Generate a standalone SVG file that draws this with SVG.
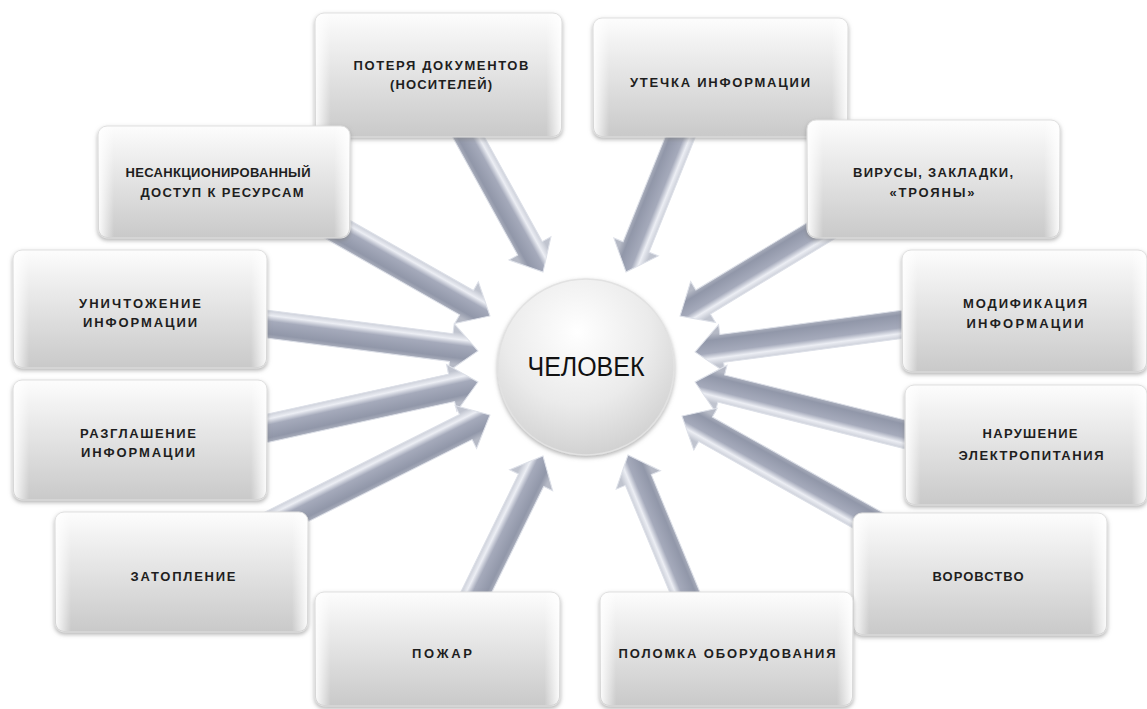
<svg xmlns="http://www.w3.org/2000/svg" width="1147" height="709" viewBox="0 0 1147 709">
<defs>
  <linearGradient id="boxGrad" x1="0" y1="0" x2="0" y2="1">
    <stop offset="0" stop-color="#fdfdfd"/>
    <stop offset="0.2" stop-color="#f2f2f2"/>
    <stop offset="1" stop-color="#c9c9c9"/>
  </linearGradient>
  <linearGradient id="bevelGrad" x1="0" y1="0" x2="1" y2="0">
    <stop offset="0" stop-color="#ffffff" stop-opacity="0.9"/>
    <stop offset="0.06" stop-color="#ffffff" stop-opacity="0"/>
    <stop offset="0.94" stop-color="#ffffff" stop-opacity="0"/>
    <stop offset="1" stop-color="#ffffff" stop-opacity="0.9"/>
  </linearGradient>
  <linearGradient id="arrowGrad" gradientUnits="userSpaceOnUse" x1="0" y1="-16" x2="0" y2="16">
    <stop offset="0" stop-color="#c0c4cf"/>
    <stop offset="0.22" stop-color="#eceef4"/>
    <stop offset="0.4" stop-color="#a5aabb"/>
    <stop offset="0.8" stop-color="#9197a9"/>
    <stop offset="1" stop-color="#b5b9c5"/>
  </linearGradient>
  <radialGradient id="circleGrad" cx="0.45" cy="0.3" r="0.75">
    <stop offset="0" stop-color="#ffffff"/>
    <stop offset="0.55" stop-color="#ebebeb"/>
    <stop offset="1" stop-color="#cdcdcd"/>
  </radialGradient>
  <filter id="shadow" x="-10%" y="-10%" width="120%" height="130%">
    <feDropShadow dx="0" dy="2" stdDeviation="2" flood-color="#808080" flood-opacity="0.6"/>
  </filter>
</defs>
<style>
  .box { fill: url(#boxGrad); stroke: #e0e0e0; stroke-width: 1; filter: url(#shadow); }
  .bevel { fill: url(#bevelGrad); stroke: none; }
  .lbl { font-family: "Liberation Sans", Arial, sans-serif; font-size: 13px; font-weight: bold; fill: #1e1e1e; text-anchor: middle; }
  .arrow { fill: url(#arrowGrad); stroke: #dde0e8; stroke-width: 1; stroke-linejoin: miter; }
  .center { fill: url(#circleGrad); stroke: #e2e2e2; stroke-width: 1.5; filter: url(#shadow); }
  .ctext { font-family: "Liberation Sans", Arial, sans-serif; font-size: 27px; fill: #111; text-anchor: middle; }
</style>

<g id="connectors">
  <path class="arrow" transform="translate(543,272) rotate(61.1)" d="M-168,-14 H-27 V-24 L0,0 L-27,24 V14 H-168 Z"/>
  <path class="arrow" transform="translate(626,272) rotate(111.9)" d="M-158,-14 H-27 V-24 L0,0 L-27,24 V14 H-158 Z"/>
  <path class="arrow" transform="translate(490,316) rotate(29.6)" d="M-184,-14 H-27 V-24 L0,0 L-27,24 V14 H-184 Z"/>
  <path class="arrow" transform="translate(680,316) rotate(148.8)" d="M-175,-14 H-27 V-24 L0,0 L-27,24 V14 H-175 Z"/>
  <path class="arrow" transform="translate(478,351) rotate(7.25)" d="M-230,-14 H-27 V-24 L0,0 L-27,24 V14 H-230 Z"/>
  <path class="arrow" transform="translate(695,352) rotate(172.4)" d="M-227,-14 H-27 V-24 L0,0 L-27,24 V14 H-227 Z"/>
  <path class="arrow" transform="translate(478,382) rotate(-12.4)" d="M-233,-14 H-27 V-24 L0,0 L-27,24 V14 H-233 Z"/>
  <path class="arrow" transform="translate(695,382) rotate(-166)" d="M-232,-14 H-27 V-24 L0,0 L-27,24 V14 H-232 Z"/>
  <path class="arrow" transform="translate(490,415) rotate(-26.6)" d="M-246,-14 H-27 V-24 L0,0 L-27,24 V14 H-246 Z"/>
  <path class="arrow" transform="translate(682,416) rotate(-150.7)" d="M-233,-14 H-27 V-24 L0,0 L-27,24 V14 H-233 Z"/>
  <path class="arrow" transform="translate(543,456) rotate(-63.9)" d="M-166,-14 H-27 V-24 L0,0 L-27,24 V14 H-166 Z"/>
  <path class="arrow" transform="translate(628,455) rotate(-112.5)" d="M-162,-14 H-27 V-24 L0,0 L-27,24 V14 H-162 Z"/>
</g>

<g id="node-center">
  <circle class="center" cx="586" cy="367" r="88"/>
  <text class="ctext" x="586" y="376" textLength="117" lengthAdjust="spacingAndGlyphs">ЧЕЛОВЕК</text>
</g>

<g id="node-poterya">
  <rect class="box" x="315" y="13" width="247" height="124" rx="9"/>
  <rect class="bevel" x="316" y="14" width="245" height="122" rx="8"/>
  <text class="lbl" x="441" y="70" textLength="175" lengthAdjust="spacing">ПОТЕРЯ ДОКУМЕНТОВ</text>
  <text class="lbl" x="441" y="89" textLength="102" lengthAdjust="spacing">(НОСИТЕЛЕЙ)</text>
</g>

<g id="node-utechka">
  <rect class="box" x="593" y="18" width="255" height="119" rx="9"/>
  <rect class="bevel" x="594" y="19" width="253" height="117" rx="8"/>
  <text class="lbl" x="720" y="87" textLength="180" lengthAdjust="spacing">УТЕЧКА ИНФОРМАЦИИ</text>
</g>

<g id="node-nesank">
  <rect class="box" x="98" y="126" width="252" height="112" rx="9"/>
  <rect class="bevel" x="99" y="127" width="250" height="110" rx="8"/>
  <text class="lbl" x="218" y="177" textLength="185" lengthAdjust="spacing">НЕСАНКЦИОНИРОВАННЫЙ</text>
  <text class="lbl" x="222" y="197" textLength="163" lengthAdjust="spacing">ДОСТУП К РЕСУРСАМ</text>
</g>

<g id="node-virusy">
  <rect class="box" x="807" y="120" width="253" height="118" rx="9"/>
  <rect class="bevel" x="808" y="121" width="251" height="116" rx="8"/>
  <text class="lbl" x="933" y="177" textLength="160" lengthAdjust="spacing">ВИРУСЫ, ЗАКЛАДКИ,</text>
  <text class="lbl" x="932" y="197" textLength="85" lengthAdjust="spacing">«ТРОЯНЫ»</text>
</g>

<g id="node-unichtozh">
  <rect class="box" x="13" y="250" width="254" height="118" rx="9"/>
  <rect class="bevel" x="14" y="251" width="252" height="116" rx="8"/>
  <text class="lbl" x="140" y="308" textLength="122" lengthAdjust="spacing">УНИЧТОЖЕНИЕ</text>
  <text class="lbl" x="140" y="327" textLength="114" lengthAdjust="spacing">ИНФОРМАЦИИ</text>
</g>

<g id="node-modif">
  <rect class="box" x="902" y="250" width="245" height="122" rx="9"/>
  <rect class="bevel" x="903" y="251" width="243" height="120" rx="8"/>
  <text class="lbl" x="1025" y="308" textLength="124" lengthAdjust="spacing">МОДИФИКАЦИЯ</text>
  <text class="lbl" x="1025" y="328" textLength="117" lengthAdjust="spacing">ИНФОРМАЦИИ</text>
</g>

<g id="node-razglash">
  <rect class="box" x="13" y="380" width="254" height="120" rx="9"/>
  <rect class="bevel" x="14" y="381" width="252" height="118" rx="8"/>
  <text class="lbl" x="138" y="438" textLength="116" lengthAdjust="spacing">РАЗГЛАШЕНИЕ</text>
  <text class="lbl" x="138" y="457" textLength="114" lengthAdjust="spacing">ИНФОРМАЦИИ</text>
</g>

<g id="node-narush">
  <rect class="box" x="905" y="385" width="242" height="120" rx="9"/>
  <rect class="bevel" x="906" y="386" width="240" height="118" rx="8"/>
  <text class="lbl" x="1030" y="438" textLength="95" lengthAdjust="spacing">НАРУШЕНИЕ</text>
  <text class="lbl" x="1031" y="460" textLength="145" lengthAdjust="spacing">ЭЛЕКТРОПИТАНИЯ</text>
</g>

<g id="node-zatoplenie">
  <rect class="box" x="55" y="512" width="253" height="120" rx="9"/>
  <rect class="bevel" x="56" y="513" width="251" height="118" rx="8"/>
  <text class="lbl" x="183" y="581" textLength="105" lengthAdjust="spacing">ЗАТОПЛЕНИЕ</text>
</g>

<g id="node-vorovstvo">
  <rect class="box" x="853" y="513" width="254" height="122" rx="9"/>
  <rect class="bevel" x="854" y="514" width="252" height="120" rx="8"/>
  <text class="lbl" x="978" y="581" textLength="91" lengthAdjust="spacing">ВОРОВСТВО</text>
</g>

<g id="node-pozhar">
  <rect class="box" x="315" y="592" width="245" height="114" rx="9"/>
  <rect class="bevel" x="316" y="593" width="243" height="112" rx="8"/>
  <text class="lbl" x="442" y="658" textLength="60" lengthAdjust="spacing">ПОЖАР</text>
</g>

<g id="node-polomka">
  <rect class="box" x="600" y="592" width="253" height="114" rx="9"/>
  <rect class="bevel" x="601" y="593" width="251" height="112" rx="8"/>
  <text class="lbl" x="727" y="658" textLength="217" lengthAdjust="spacing">ПОЛОМКА ОБОРУДОВАНИЯ</text>
</g>
</svg>
